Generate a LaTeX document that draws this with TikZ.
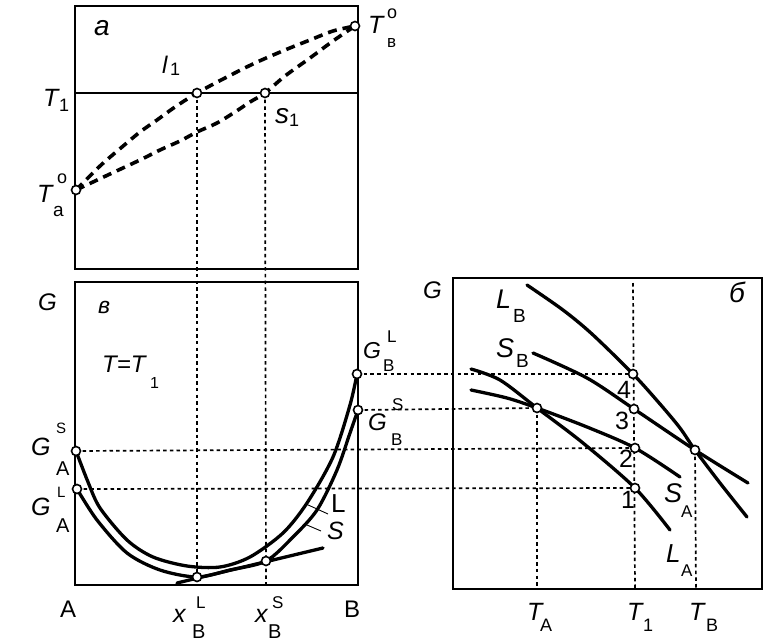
\documentclass[tikz,border=0pt]{standalone}
\usepackage{fontspec}
\setmainfont{Liberation Sans}
\begin{document}
\begin{tikzpicture}[x=1pt,y=-1pt,
  box/.style={line width=2pt},
  crv/.style={line width=3.3pt, line join=round, line cap=round},
  dcrv/.style={line width=3.6pt, dash pattern=on 9pt off 6pt},
  dotl/.style={line width=1.7pt, dash pattern=on 3.5pt off 3.2pt},
  leader/.style={line width=0.9pt},
  pt/.style={circle, draw, fill=white, line width=1.6pt, inner sep=0pt, minimum size=9pt},
  fi/.style={inner sep=0pt, anchor=base west, font=\fontsize{#1}{#1}\selectfont\itshape},
  fu/.style={inner sep=0pt, anchor=base west, font=\fontsize{#1}{#1}\selectfont}
]
\useasboundingbox (0,0) rectangle (777,643);

% ---------- coordinates ----------
\coordinate (Ta) at (76,190);
\coordinate (Tb) at (355,26);
\coordinate (l1) at (197,93);
\coordinate (s1) at (265,93);
\coordinate (T1a) at (75,93);
\coordinate (T1b) at (358,93);

\coordinate (GAS) at (76,451);
\coordinate (GAL) at (77,489);
\coordinate (GBL) at (357,374);
\coordinate (GBS) at (358,410);
\coordinate (xL) at (197,577);
\coordinate (xS) at (266,561);
\coordinate (xSb) at (266,585);
\coordinate (tg1) at (177,583);
\coordinate (tg2) at (323,548);

\coordinate (p4) at (633,374);
\coordinate (p3) at (634,409);
\coordinate (p2) at (635,448);
\coordinate (p1) at (635,488);
\coordinate (pTA) at (537,408);
\coordinate (pTB) at (695,450);
\coordinate (T1t) at (633,283);
\coordinate (T1d) at (635,589);
\coordinate (TAd) at (537,589);
\coordinate (TBd) at (696,589);

% ---------- boxes ----------
\draw[box] (75,6) rectangle (358,269);
\draw[box] (75,282) rectangle (358,585);
\draw[box] (453,278) rectangle (762,589);

% ---------- dotted guide lines ----------
\draw[dotl] (l1) -- (xL);
\draw[dotl] (s1) -- (xSb);
\draw[dotl] (GBL) -- (p4);
\draw[dotl] (GBS) -- (pTA);
\draw[dotl] (GAS) -- (p2);
\draw[dotl] (GAL) -- (p1);
\draw[dotl] (T1t) -- (T1d);
\draw[dotl] (pTA) -- (TAd);
\draw[dotl] (pTB) -- (TBd);

% ---------- top panel ----------
\draw[line width=2pt] (T1a) -- (T1b);
\draw[dcrv] plot[smooth] coordinates {(Ta) (100,166) (122,147) (140,132) (157,120) (175,107) (l1) (225,78) (255,63) (285,50) (310,40) (333,31) (Tb)};
\draw[dcrv] plot[smooth] coordinates {(Ta) (110,174) (140,160) (160,150) (180,141) (197,132) (217,123) (235,112) (250,102) (s1) (285,76) (310,58) (333,41) (Tb)};

% ---------- bottom-left panel ----------
\draw[crv] plot[smooth] coordinates {(GAS) (88,482) (100,508) (127,540) (153,557) (187,566) (220,567) (250,557) (283,533) (307,503) (333,457) (350,405) (GBL)};
\draw[crv] plot[smooth] coordinates {(GAL) (97,520) (127,553) (160,570) (xL) (230,570) (xS) (293,537) (317,510) (337,470) (350,433) (GBS)};
\draw[crv] (tg1) -- (tg2);
\coordinate (ldL1) at (306,504); \coordinate (ldL2) at (328,514);
\coordinate (ldS1) at (307,525); \coordinate (ldS2) at (321,531);
\draw[leader] (ldL1) -- (ldL2);
\draw[leader] (ldS1) -- (ldS2);

% ---------- right panel ----------
\draw[crv] plot[smooth] coordinates {(527,285) (563,310) (592,334) (p4) (660,404) (680,428) (pTB) (720,483) (747,517)};
\draw[crv] plot[smooth] coordinates {(533,353) (587,378) (p3) (pTB) (748,483)};
\draw[crv] plot[smooth] coordinates {(471,390) (507,398) (pTA) (587,427) (p2) (680,477)};
\draw[crv] plot[smooth] coordinates {(471,369) (500,380) (pTA) (583,443) (p1) (670,530)};

% ---------- points ----------
\foreach \p in {Ta,Tb,l1,s1,GAS,GAL,GBL,GBS,xL,xS,p1,p2,p3,p4,pTA,pTB}
  \node[pt] (n\p) at (\p) {};

% ---------- labels: top panel ----------
\node[fi=28] (la) at (94,35) {а};
\node[fi=25] (lT1) at (43,106) {T};
\node[fu=18] (lT1s) at (59,111) {1};
\node[fi=24] (ll1) at (162,73) {l};
\node[fu=18] (ll1s) at (170,75) {1};
\node[fi=28] (ls1) at (275,123) {s};
\node[fu=18] (ls1s) at (289,126) {1};
\node[fi=25] (lTa) at (37,202) {T};
\node[fu=18] (lTao) at (57,183) {o};
\node[fu=19] (lTas) at (53,216) {а};
\node[fi=25] (lTb) at (368,33) {T};
\node[fu=18] (lTbo) at (387,18) {o};
\node[fu=17] (lTbs) at (387,47) {в};

% ---------- labels: bottom-left panel ----------
\node[fi=24] (lG1) at (38,310) {G};
\node[fi=23] (lv) at (98,313) {в};
\node[fi=24] (lTT) at (102,372) {T=T};
\node[fu=16] (lTTs) at (150,388) {1};
\node[fi=25] (lGAS) at (31,455) {G};
\node[fu=15] (lGASp) at (56,433) {S};
\node[fu=20] (lGASb) at (56,475) {A};
\node[fi=25] (lGAL) at (31,515) {G};
\node[fu=15] (lGALp) at (57,497) {L};
\node[fu=20] (lGALb) at (56,532) {A};
\node[fi=23] (lGBL) at (363,358) {G};
\node[fu=17] (lGBLp) at (387,342) {L};
\node[fu=17] (lGBLb) at (383,371) {B};
\node[fi=24] (lGBS) at (368,430) {G};
\node[fu=17] (lGBSp) at (392,410) {S};
\node[fu=17] (lGBSb) at (391,445) {B};
\node[fu=26] (lL) at (331,512) {L};
\node[fi=25] (lS) at (327,539) {S};
\node[fu=24] (lA) at (60,617) {A};
\node[fu=24] (lB) at (344,617) {B};
\node[fi=25] (lxL) at (173,622) {x};
\node[fu=17] (lxLp) at (196,608) {L};
\node[fu=20] (lxLb) at (192,638) {B};
\node[fi=25] (lxS) at (255,622) {x};
\node[fu=17] (lxSp) at (272,608) {S};
\node[fu=20] (lxSb) at (268,638) {B};

% ---------- labels: right panel ----------
\node[fi=24] (lG2) at (423,298) {G};
\node[fi=28] (lb) at (729,302) {б};
\node[fi=27] (lLB) at (496,308) {L};
\node[fu=19] (lLBs) at (513,322) {B};
\node[fi=27] (lSB) at (496,357) {S};
\node[fu=19] (lSBs) at (516,367) {B};
\node[fu=25] (l4) at (617,398) {4};
\node[fu=25] (l3) at (615,429) {3};
\node[fu=25] (l2) at (619,467) {2};
\node[fu=25] (l1n) at (621,508) {1};
\node[fi=27] (lSA) at (664,502) {S};
\node[fu=17] (lSAs) at (681,517) {A};
\node[fi=26] (lLA) at (666,562) {L};
\node[fu=17] (lLAs) at (681,576) {A};
\node[fi=25] (lTA) at (527,620) {T};
\node[fu=18] (lTAs) at (540,631) {A};
\node[fi=25] (lT1r) at (627,620) {T};
\node[fu=18] (lT1rs) at (643,631) {1};
\node[fi=25] (lTB) at (689,620) {T};
\node[fu=18] (lTBs) at (706,631) {B};
\end{tikzpicture}
\end{document}
